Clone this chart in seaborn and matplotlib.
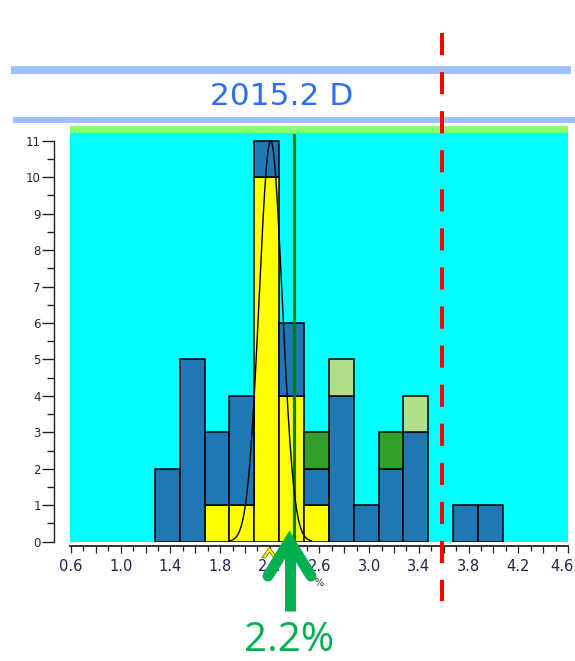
import numpy as np
import pandas as pd
import matplotlib
matplotlib.use("Agg")
import matplotlib.pyplot as plt
import seaborn as sns
from matplotlib.lines import Line2D
from matplotlib.patches import Rectangle
from matplotlib.path import Path
from matplotlib.transforms import blended_transform_factory, ScaledTranslation
from matplotlib.ticker import FixedLocator, MultipleLocator

# ---- data -------------------------------------------------------------
bin_centers = [1.375, 1.575, 1.775, 1.975, 2.175, 2.375, 2.575,
               2.775, 2.975, 3.175, 3.375, 3.575, 3.775, 3.975]
bin_width = 0.2
counts_yellow = [0, 0, 1, 1, 10, 4, 1, 0, 0, 0, 0, 0, 0, 0]
counts_blue = [2, 5, 2, 3, 1, 2, 1, 4, 1, 2, 3, 0, 1, 1]
counts_dark_green = [0, 0, 0, 0, 0, 0, 1, 0, 0, 1, 0, 0, 0, 0]
counts_light_green = [0, 0, 0, 0, 0, 0, 0, 1, 0, 0, 1, 0, 0, 0]

groups = ["yellow", "blue", "dark green", "light green"]
group_colors = ["#ffff00", "#1f78b4", "#33a02c", "#b2df8a"]

x_tick_values = [0.6, 1.0, 1.4, 1.8, 2.2, 2.6, 3.0, 3.4, 3.8, 4.2, 4.6]
x_tick_labels = ["0.6", "1.0", "1.4", "1.8", "2.2", "2.6", "3.0",
                 "3.4", "3.8", "4.2", "4.6"]
y_tick_values = list(range(0, 12))

fit_mean = 2.207
fit_sd = 0.093
fit_peak = 11.0

center_line_x = 2.395
limit_line_x = 3.585
marker_x = 2.19

title_text = "2015.2 D"
callout_text = "2.2%"
unit_text = "%"

# ---- figure -----------------------------------------------------------
W, H = 575, 661
sns.set_style("ticks")
plt.rcParams["font.family"] = ["DejaVu Sans"]

fig = plt.figure(figsize=(W / 100, H / 100), dpi=100)
fig.patch.set_facecolor("white")


def fx(px):
    return px / W


def fy(py):
    return 1 - py / H


y_px_per_unit = 36.45
y0_px = 541.7
top_px = 126
ax = fig.add_axes([fx(70), fy(y0_px), fx(568) - fx(70), (y0_px - top_px) / H])
ax.set_facecolor("#00ffff")

rows = []
for name, vals in zip(groups, [counts_yellow, counts_blue,
                               counts_dark_green, counts_light_green]):
    for c, v in zip(bin_centers, vals):
        rows.append({"value": c, "count": v, "group": name})
df = pd.DataFrame(rows)
edges = [c - bin_width / 2 for c in bin_centers] + [bin_centers[-1] + bin_width / 2]

sns.histplot(data=df, x="value", weights="count", hue="group",
             hue_order=groups[::-1], palette=dict(zip(groups, group_colors)),
             multiple="stack", bins=edges, alpha=1, edgecolor="black",
             linewidth=1.1, legend=False, ax=ax, zorder=2)
for p in list(ax.patches):
    if p.get_height() == 0:
        p.remove()

ylim_top = (y0_px - top_px) / y_px_per_unit
ax.set_xlim(0.592, 4.6)
ax.set_ylim(0, ylim_top)
ax.set_xlabel("")
ax.set_ylabel("")

# green band along the top of the plotting area
ax.axhspan((y0_px - 133) / y_px_per_unit, ylim_top, color="#80ff80", zorder=0.5, lw=0)

# fitted normal curve
xs = np.linspace(fit_mean - 0.33, fit_mean + 0.33, 300)
ys = fit_peak * np.exp(-0.5 * ((xs - fit_mean) / fit_sd) ** 2)
sns.lineplot(x=xs, y=ys, color="black", lw=1.0, ax=ax, zorder=4)

# vertical reference line
ax.axvline(center_line_x, ymin=0, ymax=(y0_px - 135) / (y0_px - top_px),
           color="#008000", lw=2.3, zorder=3)

# small marker under the axis
chev = Path([(-1, -0.7), (0, 0.7), (1, -0.7), (0.55, -0.7), (0, 0.05),
             (-0.55, -0.7), (-1, -0.7)],
            [Path.MOVETO] + [Path.LINETO] * 5 + [Path.CLOSEPOLY])
ax.plot([marker_x], [-(551.5 - y0_px) / y_px_per_unit], marker=chev,
        markersize=11, markerfacecolor="#ffff00", markeredgecolor="#6b6b00",
        markeredgewidth=0.6, clip_on=False, zorder=6, ls="none")

# axes styling
for s in ("top", "right"):
    ax.spines[s].set_visible(False)
ax.spines["left"].set_position(("outward", 11.3))
ax.spines["left"].set_bounds(0, 11)
ax.spines["left"].set_linewidth(1.0)
ax.spines["left"].set_color("#222222")
ax.spines["bottom"].set_position(("outward", 3))
ax.spines["bottom"].set_bounds(0.592, 4.6)
ax.spines["bottom"].set_linewidth(1.3)
ax.spines["bottom"].set_color("#222222")

major_x = np.round(np.arange(0.6, 4.61, 0.2), 1)
label_map = dict(zip(x_tick_values, x_tick_labels))
ax.xaxis.set_major_locator(FixedLocator(major_x))
ax.set_xticklabels([label_map.get(float(v), "") for v in major_x])
ax.xaxis.set_minor_locator(MultipleLocator(0.1))
ax.tick_params(axis="x", which="major", length=5.2, width=0.9, pad=4.5,
               labelsize=10.5, labelcolor="#1d2447", color="#222222")
ax.tick_params(axis="x", which="minor", length=3.6, width=0.9, color="#222222")

# keep the last x label inside the figure edge
last_label = ax.get_xticklabels()[-1]
last_label.set_horizontalalignment("right")
last_label.set_transform(last_label.get_transform()
                         + ScaledTranslation(6 / 100, 0, fig.dpi_scale_trans))

ax.yaxis.set_major_locator(FixedLocator(y_tick_values))
ax.set_yticklabels([str(v) for v in y_tick_values])
ax.yaxis.set_minor_locator(MultipleLocator(0.5))
ax.tick_params(axis="y", which="major", length=8.3, width=1.0, pad=1.5,
               labelsize=8.5, labelcolor="#1d2447", color="#222222")
ax.tick_params(axis="y", which="minor", length=5.0, width=1.0, color="#222222")

# ---- decorations in figure space -----------------------------------------
fig.add_artist(Rectangle((fx(11), fy(74)), fx(571) - fx(11), 8 / H,
                         transform=fig.transFigure, color="#9ec3ff", lw=0, zorder=1))
fig.add_artist(Rectangle((fx(13), fy(122.7)), fx(575) - fx(13), 6.2 / H,
                         transform=fig.transFigure, color="#9ec3ff", lw=0, zorder=1))
fig.text(fx(282), fy(105), title_text, ha="center", va="baseline",
         fontsize=22.5, color="#2f6fee", family="DejaVu Sans", zorder=2)

# red dashed limit line through the whole figure
blend = blended_transform_factory(ax.transData, fig.transFigure)
fig.add_artist(Line2D([limit_line_x, limit_line_x], [fy(33), fy(601)],
                      transform=blend, color="#ff0000", lw=2.9,
                      dashes=(5.5, 4.2), zorder=8))

# callout arrow
green = "#00b050"
fig.add_artist(Line2D([fx(289.5), fx(289.5)], [fy(611), fy(545)],
                      transform=fig.transFigure, color=green, lw=7.9,
                      solid_capstyle="butt", zorder=9))
fig.add_artist(Line2D([fx(268), fx(289.5), fx(311)], [fy(576), fy(541), fy(576)],
                      transform=fig.transFigure, color=green, lw=7.9,
                      solid_capstyle="round", solid_joinstyle="miter", zorder=9))
fig.text(fx(289), fy(651), callout_text, ha="center", va="baseline",
         fontsize=29, color=green, family="Open Sans", zorder=9)
fig.text(fx(319), fy(586), unit_text, ha="center", va="baseline",
         fontsize=7, color="#1d2447", family="DejaVu Sans", zorder=3)

fig.savefig("out.png", dpi=100, facecolor="white")
